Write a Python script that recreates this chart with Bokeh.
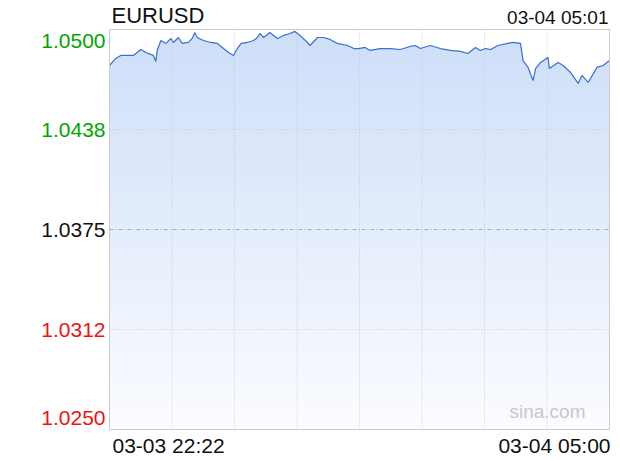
import numpy as np
from bokeh.plotting import figure
from bokeh.models import Range1d, Label
from bokeh.embed import file_html
from bokeh.resources import INLINE

# ---- data ----
symbol = "EURUSD"
last_time = "03-04 05:01"
start_label = "03-03 22:22"
end_label = "03-04 05:00"
watermark = "sina.com"

minutes = [0, 5, 9, 13, 19, 25, 29, 35, 37, 38, 41, 45, 49, 51, 55, 58, 63, 66, 68, 70,
           75, 81, 86, 91, 95, 99, 101, 105, 110, 115, 118, 120, 123, 128, 134, 139, 144,
           148, 152, 158, 160, 166, 171, 176, 182, 190, 195, 199, 204, 208, 216, 224, 232,
           240, 244, 248, 256, 264, 272, 280, 286, 292, 296, 300, 304, 310, 318, 322, 328,
           330, 334, 338, 340, 344, 350, 351, 358, 362, 368, 374, 377, 382, 389, 394, 399]
prices = [1.04775, 1.04819, 1.04838, 1.04838, 1.04838, 1.04875, 1.04856, 1.04838, 1.04800,
          1.04869, 1.04931, 1.04913, 1.04944, 1.04919, 1.04950, 1.04913, 1.04919, 1.04944,
          1.04981, 1.04950, 1.04931, 1.04919, 1.04913, 1.04881, 1.04856, 1.04838, 1.04869,
          1.04913, 1.04919, 1.04931, 1.04950, 1.04975, 1.04950, 1.04981, 1.04944, 1.04963,
          1.04975, 1.04988, 1.04963, 1.04919, 1.04900, 1.04950, 1.04950, 1.04938, 1.04913,
          1.04900, 1.04881, 1.04881, 1.04888, 1.04869, 1.04881, 1.04881, 1.04875, 1.04894,
          1.04900, 1.04881, 1.04900, 1.04881, 1.04869, 1.04863, 1.04850, 1.04888, 1.04869,
          1.04881, 1.04875, 1.04900, 1.04913, 1.04919, 1.04913, 1.04806, 1.04763, 1.04681,
          1.04756, 1.04794, 1.04825, 1.04756, 1.04794, 1.04775, 1.04731, 1.04663, 1.04713,
          1.04669, 1.04763, 1.04775, 1.04806]

y_min, y_max = 1.0250, 1.0500
y_mid = 1.0375
y_levels = [1.0500, 1.04375, 1.0375, 1.03125, 1.0250]
y_texts = ["1.0500", "1.0438", "1.0375", "1.0312", "1.0250"]
x_max = 399

# ---- layout: the chart box occupies pixels 109..609 x 29..429 of the canvas ----
W, H = 618, 458
box_l, box_r, box_t, box_b = 109, 609, 29, 429
xpp = x_max / (box_r - box_l)          # minutes per pixel
ypp = (y_max - y_min) / (box_b - box_t)  # price per pixel
xr = Range1d(-box_l * xpp, x_max + (W - box_r) * xpp)
yr = Range1d(y_min - (H - box_b) * ypp, y_max + box_t * ypp)

p = figure(width=W, height=H, output_backend="svg", toolbar_location=None,
           x_range=xr, y_range=yr, x_axis_location=None, y_axis_location=None,
           min_border=0)
p.outline_line_color = None
p.grid.visible = False
p.background_fill_color = "white"
p.border_fill_color = "white"

# gradient fill under the line (bands drawn from top to bottom)
xs = np.array(minutes, dtype=float)
ys = np.array(prices)
top_c = np.array([205, 222, 248])
bot_c = np.array([251, 252, 255])
n_bands = 60
edges = np.linspace(y_max, y_min, n_bands + 1)
for i in range(n_bands):
    yt = edges[i]
    t = (y_max - (edges[i] + edges[i + 1]) / 2) / (y_max - y_min)
    c = (top_c + (bot_c - top_c) * t).round().astype(int)
    col = "#%02x%02x%02x" % tuple(c)
    p.varea(x=xs, y1=np.full_like(ys, y_min), y2=np.minimum(ys, yt), fill_color=col,
            fill_alpha=1.0)

# grid
vx = [x_max * k / 8 for k in range(1, 8)]
p.segment(x0=vx, y0=[y_min] * 7, x1=vx, y1=[y_max] * 7, line_color="#c8c8c8",
          line_dash="1 2", line_width=1)
p.segment(x0=[0, 0], y0=[y_levels[1], y_levels[3]], x1=[x_max, x_max],
          y1=[y_levels[1], y_levels[3]], line_color="#c8c8c8", line_dash="1 2", line_width=1)
p.segment(x0=[0], y0=[y_mid], x1=[x_max], y1=[y_mid], line_color="#a4abc2",
          line_dash="4 2 1 2", line_width=1)

# price line
p.line(xs, ys, line_color="#3a6fd2", line_width=1.2)

# chart box
p.quad(left=[0], right=[x_max], bottom=[y_min], top=[y_max], fill_color=None,
       line_color="#cccccc", line_width=1)

font = "Liberation Sans"


def add_text(x, y, txt, dx, dy, align, size, color):
    p.add_layout(Label(x=x, y=y, x_offset=dx, y_offset=dy, text=txt, text_align=align,
                       text_baseline="middle", text_font=font, text_font_size=size,
                       text_color=color))


colors = ["#00a600", "#00a600", "#111111", "#ee1111", "#ee1111"]
offsets = [-11, 0, 0, 0, 12]
for lvl, txt, col, off in zip(y_levels, y_texts, colors, offsets):
    add_text(0, lvl, txt, -4, off, "right", "21px", col)

add_text(0, y_max, symbol, 2, 14, "left", "22px", "#111111")
add_text(x_max, y_max, last_time, -1, 12, "right", "19px", "#111111")
add_text(0, y_min, start_label, 3, -16, "left", "21px", "#111111")
add_text(x_max, y_min, end_label, 1, -16, "right", "21px", "#111111")
add_text(x_max, y_min, watermark, -24, 18, "right", "19px", "#c8c8c8")

open("out.html", "w").write(file_html(p, INLINE))
